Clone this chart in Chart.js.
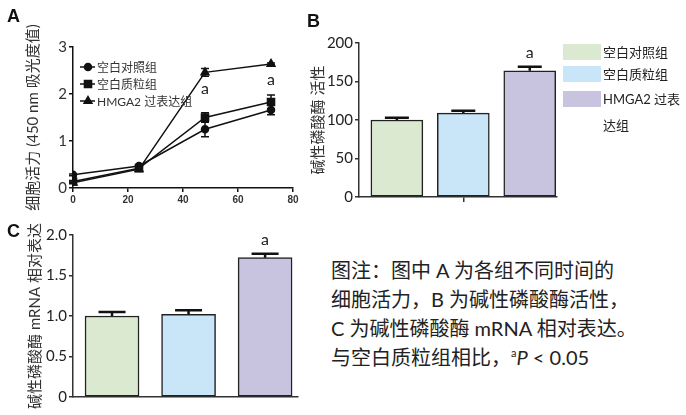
<!DOCTYPE html>
<html>
<head>
<meta charset="utf-8">
<script src="https://cdn.jsdelivr.net/npm/chart.js@4.4.1/dist/chart.umd.min.js"></script>
<style>
  body { margin: 0; background: #fff; }
  #wrap { position: relative; width: 686px; height: 415px; overflow: hidden; background: #fff;
          font-family: Lato, "Noto Sans CJK SC", sans-serif; color: #222; }
  canvas { position: absolute; }
  .tag { position: absolute; font: bold 18px "Liberation Sans", Arial, sans-serif; color: #111; }
  .lg { position: absolute; font-size: 13px; color: #222; line-height: 16px; }
  .lg i { position: absolute; width: 38px; height: 16px; left: 0; top: 0; }
  .lg span { position: absolute; left: 40px; top: 0; white-space: nowrap; }
  #note { position: absolute; left: 331px; top: 256px; font-size: 20px; line-height: 29px; color: #222; white-space: nowrap; }
  #note sup { font-size: 11px; line-height: 0; vertical-align: 8px; }
</style>
</head>
<body>
<div id="wrap">
  <canvas id="chartA" width="310" height="215" style="left:0;top:0"></canvas>
  <canvas id="chartB" width="260" height="215" style="left:300px;top:0"></canvas>
  <canvas id="chartC" width="310" height="200" style="left:0;top:215px"></canvas>
  <div class="tag" style="left:7px;top:6px">A</div>
  <div class="tag" style="left:307px;top:11px">B</div>
  <div class="tag" style="left:7px;top:221px">C</div>
  <div id="legendB"></div>
  <div id="note">图注：图中 A 为各组不同时间的<br>细胞活力，B 为碱性磷酸酶活性，<br>C 为碱性磷酸酶 mRNA 相对表达。<br>与空白质粒组相比，<sup>a</sup><i>P</i> &lt; 0.05</div>
</div>
<script>
// data
const groups = ["空白对照组", "空白质粒组", "HMGA2 过表达组"];
const hours = [0, 24, 48, 72];
const ctrlOD = [0.28, 0.47, 1.25, 1.66];
const ctrlErr = [0.02, 0.03, 0.16, 0.10];
const plasmidOD = [0.14, 0.42, 1.50, 1.83];
const plasmidErr = [0.02, 0.03, 0.10, 0.15];
const hmgaOD = [0.11, 0.40, 2.46, 2.64];
const hmgaErr = [0.02, 0.03, 0.08, 0.02];
const hmgaSig = ["", "", "a", "a"];

const alpActivity = [100, 109, 164];
const alpErr = [3, 3, 5];
const alpSig = ["", "", "a"];

const alpMrna = [1.0, 1.02, 1.72];
const mrnaErr = [0.05, 0.05, 0.05];
const mrnaSig = ["", "", "a"];

const barColors = ["#dbe9d1", "#c8e6f8", "#c8c4e0"];
const cjk = 'Lato, "Noto Sans CJK SC", sans-serif';

Chart.defaults.font.family = cjk;
Chart.defaults.color = "#222";

// error bars + "a" marks
const errPlugin = {
  id: 'errBars',
  afterDatasetsDraw(chart) {
    const ctx = chart.ctx;
    const ys = chart.scales.y;
    chart.data.datasets.forEach((ds, di) => {
      if (!ds.errors) return;
      const meta = chart.getDatasetMeta(di);
      meta.data.forEach((el, i) => {
        const v = ds.data[i].y;
        const e = ds.errors[i];
        const top = ys.getPixelForValue(v + e);
        const bot = ds.errUp ? ys.getPixelForValue(v) : ys.getPixelForValue(v - e);
        const cw = ds.capWidth / 2;
        ctx.save();
        ctx.strokeStyle = "#111";
        ctx.lineWidth = ds.errUp ? 2.5 : 1.5;
        ctx.beginPath();
        ctx.moveTo(el.x, top); ctx.lineTo(el.x, bot);
        ctx.moveTo(el.x - cw, top); ctx.lineTo(el.x + cw, top);
        if (!ds.errUp) { ctx.moveTo(el.x - cw, bot); ctx.lineTo(el.x + cw, bot); }
        ctx.stroke();
        if (ds.sig && ds.sig[i]) {
          ctx.fillStyle = "#222";
          ctx.font = "16px " + cjk;
          ctx.textAlign = "center";
          ctx.textBaseline = "middle";
          const ty = ds.errUp ? top - 14 : el.y + 16;
          ctx.fillText(ds.sig[i], el.x, ty);
        }
        ctx.restore();
      });
    });
  }
};

// legend inside panel A
const legendA = {
  id: 'legendA',
  afterDraw(chart) {
    const ctx = chart.ctx;
    chart.data.datasets.forEach((ds, i) => {
      const y = 67 + i * 17;
      ctx.save();
      ctx.strokeStyle = "#111";
      ctx.lineWidth = 1.5;
      ctx.beginPath(); ctx.moveTo(80, y); ctx.lineTo(95, y); ctx.stroke();
      ctx.fillStyle = "#111";
      Chart.helpers.drawPoint(ctx, {pointStyle: ds.pointStyle, radius: ds.pointRadius, borderWidth: 1}, 88, y);
      ctx.fillStyle = "#333";
      ctx.font = "12px " + cjk;
      ctx.textBaseline = "middle";
      ctx.fillText(ds.label, 97, y + 1);
      ctx.restore();
    });
  }
};

function lineSet(label, vals, errs, style, r, sig) {
  return {
    label: label,
    data: hours.map((h, i) => ({x: h, y: vals[i]})),
    errors: errs, capWidth: 8, sig: sig,
    borderColor: "#111", backgroundColor: "#111", borderWidth: 1.5,
    pointStyle: style, pointRadius: r, pointHoverRadius: r,
    pointBackgroundColor: "#111", pointBorderColor: "#111"
  };
}

new Chart(document.getElementById("chartA"), {
  type: 'line',
  data: {
    datasets: [
      lineSet(groups[0], ctrlOD, ctrlErr, 'circle', 3.5, null),
      lineSet(groups[1], plasmidOD, plasmidErr, 'rect', 5, null),
      lineSet(groups[2], hmgaOD, hmgaErr, 'triangle', 4.5, hmgaSig)
    ]
  },
  options: {
    responsive: false, animation: false, devicePixelRatio: 1,
    layout: {padding: {left: 0, top: 47, right: 17, bottom: 0}},
    plugins: {legend: {display: false}, tooltip: {enabled: false}},
    scales: {
      x: {
        type: 'linear', min: 0, max: 80,
        afterFit(s) { s.height = 27; },
        ticks: {stepSize: 20, padding: 2, font: {size: 10, weight: 'bold', family: '"Liberation Sans", Arial'}, color: "#333"},
        grid: {drawOnChartArea: false, tickLength: 4, color: "#111", lineWidth: 1.5},
        border: {color: "#111", width: 1.5}
      },
      y: {
        min: 0, max: 3,
        afterFit(s) { s.width = 73; },
        ticks: {stepSize: 1, padding: 2, font: {size: 15}, color: "#333"},
        grid: {drawOnChartArea: false, tickLength: 4, color: "#111", lineWidth: 1.5},
        border: {color: "#111", width: 1.5},
        title: {display: true, text: "细胞活力 (450 nm 吸光度值)", font: {size: 15}, color: "#333", padding: {top: 24, bottom: 0}}
      }
    }
  },
  plugins: [errPlugin, legendA]
});

function barChart(id, vals, errs, sig, opts) {
  return new Chart(document.getElementById(id), {
    type: 'bar',
    data: {
      datasets: [{
        data: vals.map((v, i) => ({x: i, y: v})),
        errors: errs, errUp: true, capWidth: opts.cap, sig: sig,
        backgroundColor: barColors, borderColor: "#222", borderWidth: 1.5,
        barThickness: opts.barW, borderSkipped: false
      }]
    },
    options: {
      responsive: false, animation: false, devicePixelRatio: 1,
      layout: {padding: opts.pad},
      plugins: {legend: {display: false}, tooltip: {enabled: false}},
      scales: {
        x: {
          type: 'linear', min: opts.xmin, max: opts.xmax, offset: false,
          afterFit(s) { s.height = opts.xh; },
          afterBuildTicks(s) { s.ticks = opts.xtick ? [{value: 1}] : []; },
          ticks: {display: true, callback: () => ''},
          grid: {display: opts.xtick, offset: false, drawOnChartArea: false, tickLength: 5, color: "#333", lineWidth: 1.5},
          border: {color: "#333", width: 1.5}
        },
        y: {
          min: 0, max: opts.ymax,
          afterFit(s) { s.width = opts.yw; },
          ticks: {stepSize: opts.step, padding: 2, font: {size: 15}, color: "#222",
                  callback: opts.fmt},
          grid: {drawOnChartArea: false, tickLength: 4, color: "#333", lineWidth: 1.5},
          border: {color: "#333", width: 1.5},
          title: {display: true, text: opts.title, font: {size: 15}, color: "#333", padding: {top: opts.tpad, bottom: 0}}
        }
      }
    },
    plugins: [errPlugin]
  });
}

barChart("chartB", alpActivity, alpErr, alpSig, {
  pad: {left: 0, top: 43, right: 3, bottom: 0}, xh: 18, yw: 59,
  xmin: -0.57, xmax: 2.41, barW: 52, cap: 24, xtick: true,
  ymax: 200, step: 50, fmt: v => v, title: "碱性磷酸酶 活性", tpad: 9
});

barChart("chartC", alpMrna, mrnaErr, mrnaSig, {
  pad: {left: 0, top: 20, right: 12, bottom: 0}, xh: 18, yw: 73,
  xmin: -0.51, xmax: 2.43, barW: 54, cap: 27, xtick: false,
  ymax: 2, step: 0.5, fmt: v => v === 0 ? '0' : v.toFixed(1), title: "碱性磷酸酶 mRNA 相对表达", tpad: 26
});

// legend for panel B
const lgTop = [44, 66, 91];
const lgText = ["空白对照组", "空白质粒组", "HMGA2 过表<br>达组"];
document.getElementById("legendB").innerHTML = groups.map((g, i) =>
  `<div class="lg" style="left:563px;top:${lgTop[i]}px"><i style="background:${barColors[i]}"></i><span style="${i === 2 ? 'line-height:26px;top:-5px' : ''}">${lgText[i]}</span></div>`
).join('');
</script>
</body>
</html>
